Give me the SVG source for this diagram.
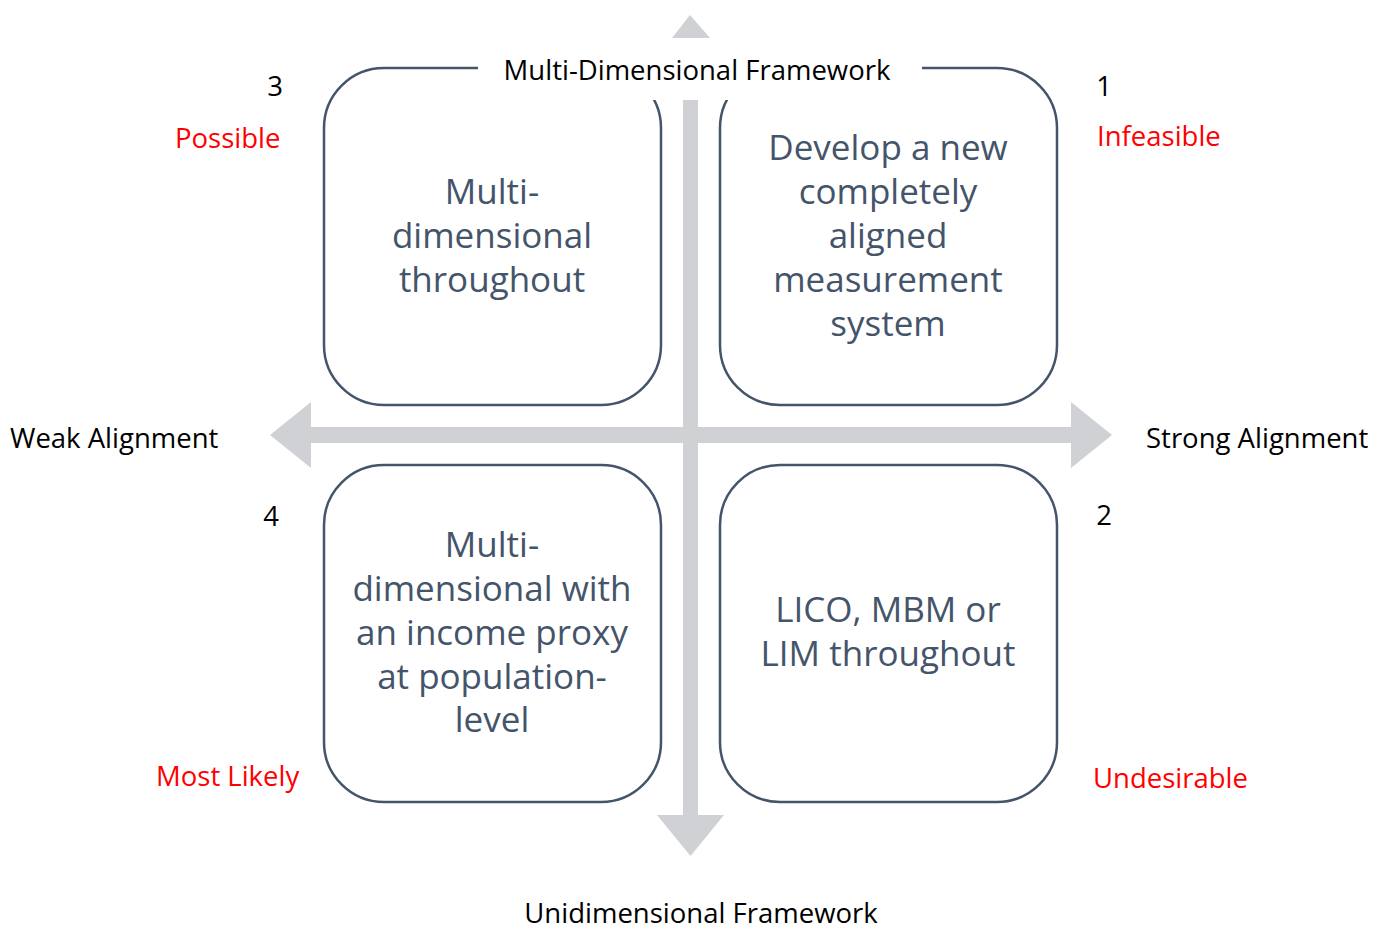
<svg xmlns="http://www.w3.org/2000/svg" width="1391" height="931" viewBox="0 0 1391 931">
  <style>
    .box { fill: #ffffff; stroke: #44546A; stroke-width: 2.5; }
    .boxtext { font-family: "Open Sans", "Liberation Sans", sans-serif; font-size: 35px; fill: #44546A; text-anchor: middle; }
    .axis { fill: #D0D1D5; }
    .lbl { font-family: "Open Sans", "Liberation Sans", sans-serif; font-size: 27.5px; fill: #000000; }
    .red { font-family: "Open Sans", "Liberation Sans", sans-serif; font-size: 27.5px; fill: #FF0000; }
  </style>
  <rect width="1391" height="931" fill="#ffffff"/>

  <!-- axes (connectors) -->
  <g id="connectors">
    <polygon class="axis" points="690,15 710,38 672,38"/>
    <rect class="axis" x="683" y="38" width="15" height="778"/>
    <polygon class="axis" points="657,815 724,815 690.5,856"/>
    <rect class="axis" x="310" y="427" width="762" height="16"/>
    <polygon class="axis" points="270,435 311,402 311,468"/>
    <polygon class="axis" points="1112,435 1071,402 1071,468"/>
  </g>

  <g id="q3">
    <rect class="box" x="324" y="68" width="337" height="337" rx="60"/>
    <text class="boxtext" x="492" y="204">Multi-</text>
    <text class="boxtext" x="492" y="248">dimensional</text>
    <text class="boxtext" x="492" y="292">throughout</text>
  </g>
  <g id="q1">
    <rect class="box" x="720" y="68" width="337" height="337" rx="60"/>
    <text class="boxtext" x="888" y="160">Develop a new</text>
    <text class="boxtext" x="888" y="204">completely</text>
    <text class="boxtext" x="888" y="248">aligned</text>
    <text class="boxtext" x="888" y="292">measurement</text>
    <text class="boxtext" x="888" y="336">system</text>
  </g>
  <g id="q4">
    <rect class="box" x="324" y="465" width="337" height="337" rx="60"/>
    <text class="boxtext" x="492" y="557">Multi-</text>
    <text class="boxtext" x="492" y="601">dimensional with</text>
    <text class="boxtext" x="492" y="645">an income proxy</text>
    <text class="boxtext" x="492" y="689">at population-</text>
    <text class="boxtext" x="492" y="732">level</text>
  </g>
  <g id="q2">
    <rect class="box" x="720" y="465" width="337" height="337" rx="60"/>
    <text class="boxtext" x="888" y="622">LICO, MBM or</text>
    <text class="boxtext" x="888" y="666">LIM throughout</text>
  </g>

  <!-- top axis label with white backing -->
  <g id="top-label">
    <rect x="478" y="38" width="444" height="62" fill="#ffffff"/>
    <text class="lbl" x="697" y="80" text-anchor="middle">Multi-Dimensional Framework</text>
  </g>
  <g id="bottom-label">
    <text class="lbl" x="701" y="923" text-anchor="middle">Unidimensional Framework</text>
  </g>
  <g id="left-label">
    <text class="lbl" x="10" y="448">Weak Alignment</text>
  </g>
  <g id="right-label">
    <text class="lbl" x="1146" y="448">Strong Alignment</text>
  </g>

  <g id="corner-labels">
    <text class="lbl" x="275" y="96" text-anchor="middle">3</text>
    <text class="lbl" x="1104" y="96" text-anchor="middle">1</text>
    <text class="lbl" x="271" y="526" text-anchor="middle">4</text>
    <text class="lbl" x="1104" y="525" text-anchor="middle">2</text>
    <text class="red" x="175" y="148">Possible</text>
    <text class="red" x="1097" y="146">Infeasible</text>
    <text class="red" x="156" y="786">Most Likely</text>
    <text class="red" x="1093" y="788">Undesirable</text>
  </g>
</svg>
